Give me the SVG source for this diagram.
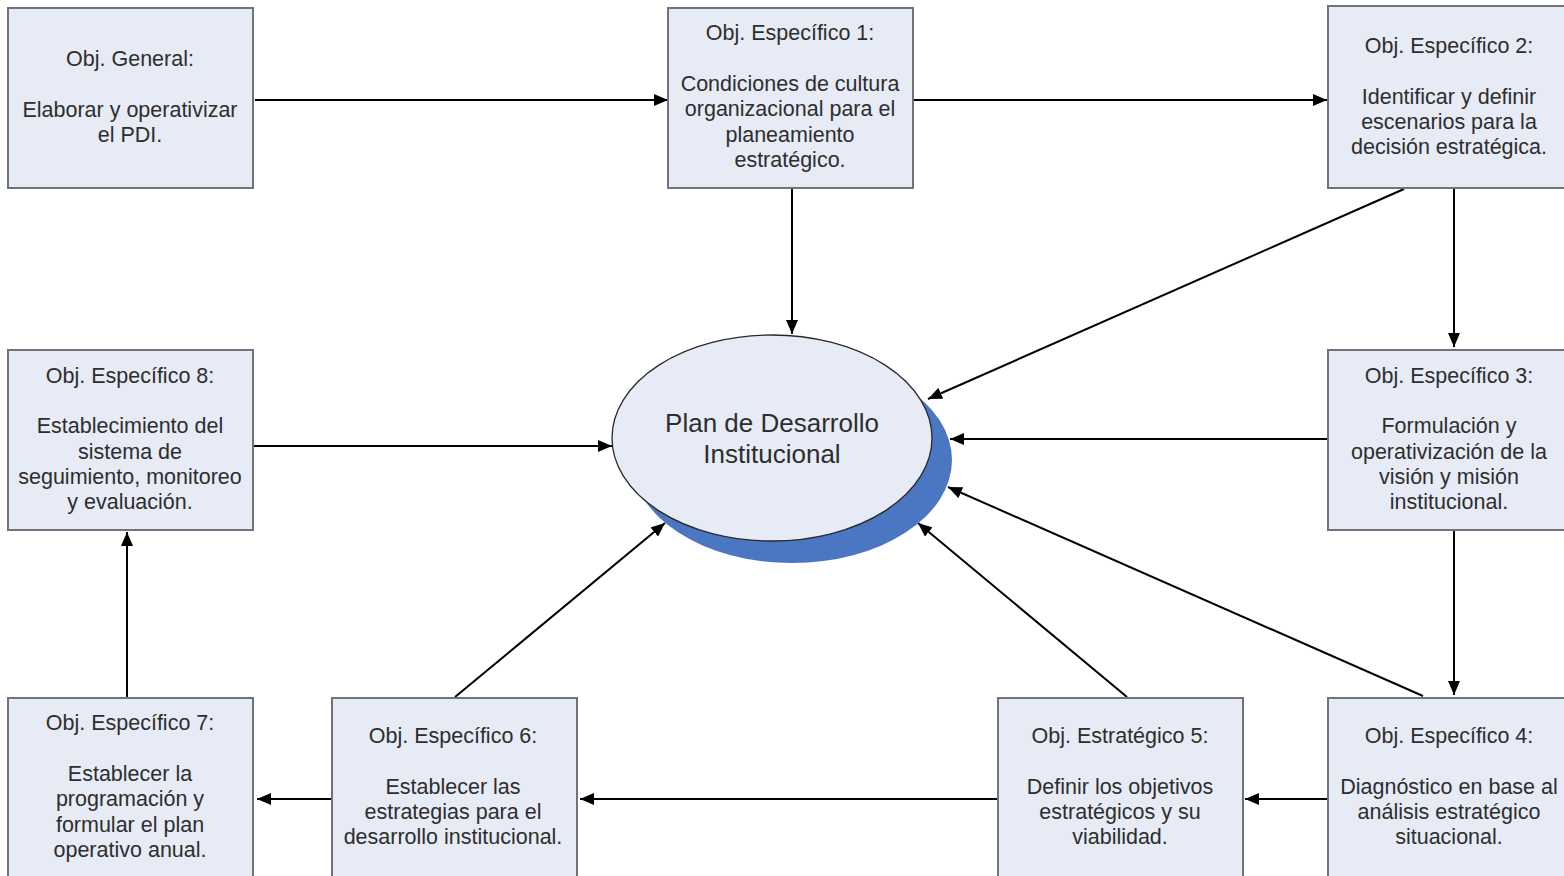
<svg xmlns="http://www.w3.org/2000/svg" width="1564" height="876" viewBox="0 0 1564 876">
  <defs>
    <marker id="arrow" viewBox="0 0 14 12" refX="14" refY="6" markerWidth="14" markerHeight="12" markerUnits="userSpaceOnUse" orient="auto">
      <path d="M0,0 L14,6 L0,12 Z" fill="#000"/>
    </marker>
    <style>
      .box { fill: #e6ebf5; stroke: #6f747c; stroke-width: 2; }
      .lbl { font-family: "Liberation Sans", Arial, sans-serif; font-size: 21.5px; fill: #2e2e2e; text-anchor: middle; }
      .big { font-size: 26px; }
      .conn { stroke: #000; stroke-width: 2; fill: none; marker-end: url(#arrow); }
    </style>
  </defs>
  <rect width="1564" height="876" fill="#fff"/>

  <!-- connectors -->
  <g id="connectors">
    <line class="conn" x1="255" y1="100" x2="668" y2="100"/>
    <line class="conn" x1="914" y1="100" x2="1327" y2="100"/>
    <line class="conn" x1="792" y1="189" x2="792" y2="334"/>
    <line class="conn" x1="1404" y1="189" x2="928" y2="399"/>
    <line class="conn" x1="1454" y1="189" x2="1454" y2="347"/>
    <line class="conn" x1="1327" y1="439" x2="950" y2="439"/>
    <line class="conn" x1="1454" y1="531" x2="1454" y2="695"/>
    <line class="conn" x1="1423" y1="696" x2="948" y2="487"/>
    <line class="conn" x1="1127" y1="697" x2="918" y2="523"/>
    <line class="conn" x1="1327" y1="799" x2="1245" y2="799"/>
    <line class="conn" x1="997" y1="799" x2="580" y2="799"/>
    <line class="conn" x1="331" y1="799" x2="257" y2="799"/>
    <line class="conn" x1="455" y1="697" x2="665" y2="523"/>
    <line class="conn" x1="127" y1="697" x2="127" y2="532"/>
    <line class="conn" x1="254" y1="446" x2="612" y2="446"/>
  </g>

  <!-- central node -->
  <g id="plan">
    <ellipse cx="792" cy="460" rx="160" ry="103" fill="#4a76c2"/>
    <ellipse cx="772" cy="438" rx="160" ry="103" fill="#e6ebf5" stroke="#2a2a2a" stroke-width="1.3"/>
    <text class="lbl big" x="772" y="432">Plan de Desarrollo</text>
    <text class="lbl big" x="772" y="463">Institucional</text>
  </g>

  <g id="obj-general">
    <rect class="box" x="8" y="8" width="245" height="180"/>
    <text class="lbl" x="130" y="66">Obj. General:</text>
    <text class="lbl" x="130" y="117">Elaborar y operativizar</text>
    <text class="lbl" x="130" y="142">el PDI.</text>
  </g>

  <g id="obj-esp-1">
    <rect class="box" x="668" y="8" width="245" height="180"/>
    <text class="lbl" x="790" y="40">Obj. Específico 1:</text>
    <text class="lbl" x="790" y="91">Condiciones de cultura</text>
    <text class="lbl" x="790" y="116">organizacional para el</text>
    <text class="lbl" x="790" y="142">planeamiento</text>
    <text class="lbl" x="790" y="167">estratégico.</text>
  </g>

  <g id="obj-esp-2">
    <rect class="box" x="1328" y="6" width="245" height="182"/>
    <text class="lbl" x="1449" y="53">Obj. Específico 2:</text>
    <text class="lbl" x="1449" y="104">Identificar y definir</text>
    <text class="lbl" x="1449" y="129">escenarios para la</text>
    <text class="lbl" x="1449" y="154">decisión estratégica.</text>
  </g>

  <g id="obj-esp-8">
    <rect class="box" x="8" y="350" width="245" height="180"/>
    <text class="lbl" x="130" y="383">Obj. Específico 8:</text>
    <text class="lbl" x="130" y="433">Establecimiento del</text>
    <text class="lbl" x="130" y="459">sistema de</text>
    <text class="lbl" x="130" y="484">seguimiento, monitoreo</text>
    <text class="lbl" x="130" y="509">y evaluación.</text>
  </g>

  <g id="obj-esp-3">
    <rect class="box" x="1328" y="350" width="245" height="180"/>
    <text class="lbl" x="1449" y="383">Obj. Específico 3:</text>
    <text class="lbl" x="1449" y="433">Formulación y</text>
    <text class="lbl" x="1449" y="459">operativización de la</text>
    <text class="lbl" x="1449" y="484">visión y misión</text>
    <text class="lbl" x="1449" y="509">institucional.</text>
  </g>

  <g id="obj-esp-7">
    <rect class="box" x="8" y="698" width="245" height="190"/>
    <text class="lbl" x="130" y="730">Obj. Específico 7:</text>
    <text class="lbl" x="130" y="781">Establecer la</text>
    <text class="lbl" x="130" y="806">programación y</text>
    <text class="lbl" x="130" y="832">formular el plan</text>
    <text class="lbl" x="130" y="857">operativo anual.</text>
  </g>

  <g id="obj-esp-6">
    <rect class="box" x="332" y="698" width="245" height="190"/>
    <text class="lbl" x="453" y="743">Obj. Específico 6:</text>
    <text class="lbl" x="453" y="794">Establecer las</text>
    <text class="lbl" x="453" y="819">estrategias para el</text>
    <text class="lbl" x="453" y="844">desarrollo institucional.</text>
  </g>

  <g id="obj-est-5">
    <rect class="box" x="998" y="698" width="245" height="190"/>
    <text class="lbl" x="1120" y="743">Obj. Estratégico 5:</text>
    <text class="lbl" x="1120" y="794">Definir los objetivos</text>
    <text class="lbl" x="1120" y="819">estratégicos y su</text>
    <text class="lbl" x="1120" y="844">viabilidad.</text>
  </g>

  <g id="obj-esp-4">
    <rect class="box" x="1328" y="698" width="245" height="190"/>
    <text class="lbl" x="1449" y="743">Obj. Específico 4:</text>
    <text class="lbl" x="1449" y="794">Diagnóstico en base al</text>
    <text class="lbl" x="1449" y="819">análisis estratégico</text>
    <text class="lbl" x="1449" y="844">situacional.</text>
  </g>
</svg>
